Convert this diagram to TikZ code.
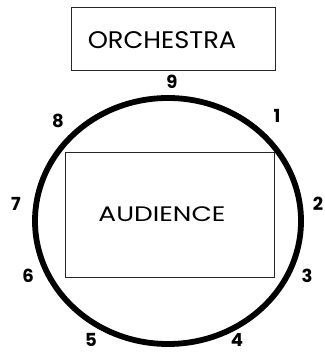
\documentclass[tikz,border=0pt]{standalone}
\usepackage{fontspec}
\setmainfont{Poppins}
\begin{document}
\begin{tikzpicture}[x=1pt,y=1pt,
  boxlabel/.style={draw=black!85,line width=1pt,inner sep=0pt},
  seat/.style={font=\fontsize{18}{18}\selectfont\bfseries,inner sep=0pt},
  ring/.style={line width=5.8pt}]
\useasboundingbox (0,0) rectangle (324,352);
\node[boxlabel,minimum width=204,minimum height=63] (orch) at (173,312.5) {};
\node[font=\fontsize{24}{24}\selectfont,xscale=1.07] (orchtext) at (162,312) {ORCHESTRA};
\node[boxlabel,minimum width=209,minimum height=125] (aud) at (169.5,136.5) {};
\node[font=\fontsize{21}{21}\selectfont,xscale=1.26] (audtext) at (162,138) {AUDIENCE};
\draw[ring] (168,131) ellipse [x radius=133, y radius=123];
\node[seat] (n9) at (172,270) {9};
\node[seat] (n1) at (277,236) {1};
\node[seat] (n2) at (318,148) {2};
\node[seat] (n3) at (307,76) {3};
\node[seat] (n4) at (237,12) {4};
\node[seat] (n5) at (91,12) {5};
\node[seat] (n6) at (28,76) {6};
\node[seat] (n7) at (16,148) {7};
\node[seat] (n8) at (58,231) {8};
\end{tikzpicture}
\end{document}
